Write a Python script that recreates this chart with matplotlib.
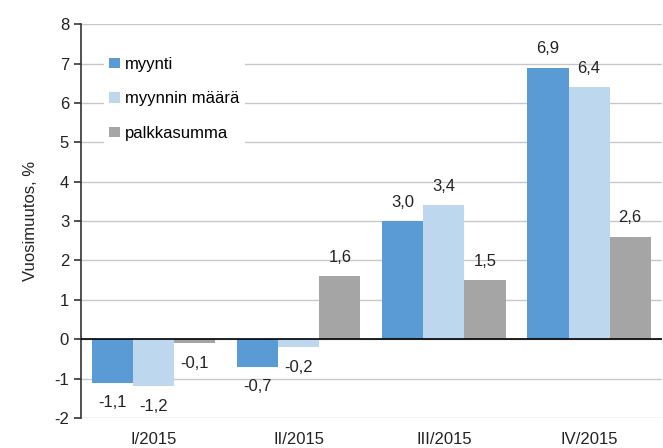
import numpy as np
import matplotlib
matplotlib.use("Agg")
import matplotlib.pyplot as plt

plt.rcParams['font.family'] = ['Liberation Sans', 'DejaVu Sans']
plt.rcParams['axes.unicode_minus'] = False

# ---------- data ----------
categories = ["I/2015", "II/2015", "III/2015", "IV/2015"]
series_names = ["myynti", "myynnin määrä", "palkkasumma"]
myynti = [-1.1, -0.7, 3.0, 6.9]
myynnin_maara = [-1.2, -0.2, 3.4, 6.4]
palkkasumma = [-0.1, 1.6, 1.5, 2.6]
colors = ["#5B9BD5", "#BDD7EE", "#A5A5A5"]

# ---------- plot ----------
fig = plt.figure(figsize=(6.63, 4.48), dpi=100)
ax = fig.add_axes([0.122, 0.067, 0.876, 0.879])

x = np.arange(len(categories))
w = 0.283
for i, (vals, name, col) in enumerate(zip([myynti, myynnin_maara, palkkasumma],
                                          series_names, colors)):
    pos = x + (i - 1) * w
    ax.bar(pos, vals, width=w, color=col, label=name, zorder=3)
    for px, v in zip(pos, vals):
        off = 19 if v >= 0 else -20
        ax.annotate(f"{v:.1f}".replace(".", ","), (px, v),
                    xytext=(0, off), textcoords="offset pixels",
                    ha="center", va="center", fontsize=12, color="#222222")

ax.set_ylim(-2, 8)
ax.set_xlim(-0.5, len(categories) - 0.5)
ax.set_yticks(range(-2, 9))
ax.set_xticks(x)
ax.set_xticklabels(categories)
ax.tick_params(axis="x", length=0, pad=10, labelsize=12, labelcolor="#222222")
ax.tick_params(axis="y", length=5, direction="out", width=1.2,
               labelsize=12, colors="#333333", labelcolor="#222222")

ax.grid(axis="y", color="#C8C8C8", linewidth=1, zorder=0)
ax.axhline(0, color="black", linewidth=1.2, zorder=4)
for s in ["top", "right", "bottom"]:
    ax.spines[s].set_visible(False)
ax.spines["left"].set_color("#333333")
ax.spines["left"].set_linewidth(1.2)

ax.set_ylabel("Vuosimuutos, %", fontsize=12, color="#222222", labelpad=12)

leg = ax.legend(loc="upper left", bbox_to_anchor=(0.025, 0.95), frameon=True,
                fontsize=12, handlelength=0.7, handleheight=0.55,
                handletextpad=0.3, labelspacing=1.15, borderpad=0.3)
leg.get_frame().set_facecolor("white")
leg.get_frame().set_edgecolor("none")
leg.get_frame().set_alpha(1)
leg.set_zorder(5)

fig.savefig("out.png", dpi=100)
